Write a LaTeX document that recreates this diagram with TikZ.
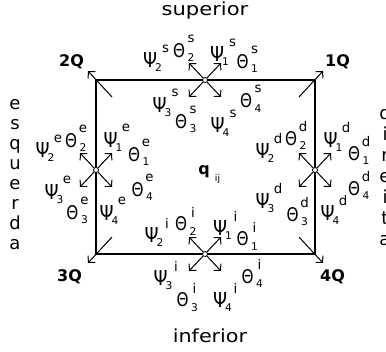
\documentclass[tikz,border=0pt]{standalone}
\usepackage{fontspec}
\setmainfont{DejaVu Sans}
\usetikzlibrary{arrows.meta}
\tikzset{
 box/.style={draw=black, line width=1.1pt},
 arr/.style={draw=black, line width=0.75pt, -{Straight Barb[length=3.6pt,width=7.5pt]}},
 glyph/.style={inner sep=0pt},
 subscr/.style={inner sep=0pt, font=\fontsize{8pt}{8pt}\selectfont},
 supscr/.style={inner sep=0pt, font=\fontsize{10pt}{10pt}\selectfont},
 corner/.style={inner sep=0pt, font=\bfseries\fontsize{12pt}{12pt}\selectfont},
 side/.style={inner sep=0pt, font=\fontsize{13.5pt}{13.5pt}\selectfont},
 vertA/.style={inner sep=0pt, align=center, font=\fontsize{13.5pt}{15pt}\selectfont},
 vertB/.style={inner sep=0pt, align=center, font=\fontsize{13.5pt}{15.75pt}\selectfont},
 hub/.style={circle, draw, fill=white, inner sep=0pt, minimum size=3.8pt, line width=0.6pt},
}
\newcommand\PSI[5]{%
 \node[glyph] (#1) at (#2,#3) {\resizebox{10.5pt}{11.25pt}{Ψ}};
 \node[subscr] (#1b) at (#2+8.5,#3+8) {#4};
 \node[supscr] (#1t) at (#2+15.5,#3-11.5) {#5};}
\newcommand\THE[5]{%
 \node[glyph] (#1) at (#2,#3) {\resizebox{9pt}{10.5pt}{Θ}};
 \node[subscr] (#1b) at (#2+12,#3+7.5) {#4};
 \node[supscr] (#1t) at (#2+12,#3-12) {#5};}
\newcommand\STAR[3]{%
 \coordinate (#1ne) at (#2+16,#3-17);
 \coordinate (#1nw) at (#2-16,#3-17);
 \coordinate (#1se) at (#2+16,#3+17);
 \coordinate (#1sw) at (#2-16,#3+17);
 \draw[arr] (#1) -- (#1ne);
 \draw[arr] (#1) -- (#1nw);
 \draw[arr] (#1) -- (#1se);
 \draw[arr] (#1) -- (#1sw);}
\begin{document}
\begin{tikzpicture}[x=0.75pt,y=-0.75pt]
\useasboundingbox (0,0) rectangle (386,351);
\clip (0,0) rectangle (386,351);
% frame
\coordinate (c2) at (96,80);
\coordinate (c1) at (315,80);
\coordinate (c3) at (96,254);
\coordinate (c4) at (315,254);
\draw[box] (c2) -- (c1) -- (c4) -- (c3) -- cycle;
% corner arrows
\coordinate (a2i) at (112,97);  \coordinate (a2o) at (88,71);
\coordinate (a1i) at (299,97);  \coordinate (a1o) at (323,71);
\coordinate (a3i) at (112,237); \coordinate (a3o) at (88,263);
\coordinate (a4i) at (299,237); \coordinate (a4o) at (323,263);
\draw[arr] (a2i) -- (a2o);
\draw[arr] (a1i) -- (a1o);
\draw[arr] (a3i) -- (a3o);
\draw[arr] (a4i) -- (a4o);
% hubs
\node[hub] (hs) at (205,80) {};
\node[hub] (hi) at (205,254) {};
\node[hub] (he) at (96,170) {};
\node[hub] (hd) at (315,170) {};
\STAR{hs}{205}{80}
\STAR{hi}{205}{254}
\STAR{he}{96}{170}
\STAR{hd}{315}{170}
% corner labels
\node[corner] (q2) at (71.5,61.5) {2Q};
\node[corner] (q1) at (337.5,62) {1Q};
\node[corner] (q3) at (69.5,277) {3Q};
\node[corner] (q4) at (332.5,277) {4Q};
% side labels
\node[side, anchor=base] (sup) at (205,15) {\scalebox{1.17}[1]{superior}};
\node[side, anchor=base] (inf) at (210,342) {\scalebox{1.15}[1]{inferior}};
\node[vertA] (esq) at (15,175) {e\\s\\q\\u\\e\\r\\d\\a};
\node[vertB] (dir) at (385,176) {d\\i\\r\\e\\i\\t\\a};
% centre
\node[inner sep=0pt, font=\bfseries\fontsize{12pt}{12pt}\selectfont] (q) at (204,172) {q};
\node[inner sep=0pt, font=\fontsize{7pt}{7pt}\selectfont] (qij) at (217.5,178.5) {ij};
% top
\PSI{ps2}{150}{60}{2}{s}
\THE{ts2}{179}{50.5}{2}{s}
\PSI{ps1}{217}{54}{1}{s}
\THE{ts1}{242.5}{61.5}{1}{s}
\PSI{ps3}{159.5}{104.5}{3}{s}
\THE{ts4}{246}{101}{4}{s}
\THE{ts3}{181}{121.5}{3}{s}
\PSI{ps4}{217.5}{125}{4}{s}
% bottom
\PSI{pi2}{151.5}{235}{2}{i}
\THE{ti2}{181}{224}{2}{i}
\PSI{pi1}{220}{228}{1}{i}
\THE{ti1}{242.5}{239}{1}{i}
\PSI{pi3}{160.5}{277.5}{3}{i}
\THE{ti4}{247.5}{276.5}{4}{i}
\THE{ti3}{182.5}{300}{3}{i}
\PSI{pi4}{220}{300}{4}{i}
% left
\PSI{pe2}{42.5}{150}{2}{e}
\THE{te2}{71}{140.5}{2}{e}
\PSI{pe1}{110.5}{139.5}{1}{e}
\THE{te1}{134}{154.5}{1}{e}
\PSI{pe3}{51.5}{191.5}{3}{e}
\THE{te4}{137.5}{189.5}{4}{e}
\THE{te3}{72.5}{212.5}{3}{e}
\PSI{pe4}{106.5}{212.5}{4}{e}
% right
\PSI{pd2}{262.5}{150.5}{2}{d}
\THE{td2}{291}{138.5}{2}{d}
\PSI{pd1}{330.5}{139.5}{1}{d}
\THE{td1}{354}{153.5}{1}{d}
\PSI{pd3}{262.5}{200.5}{3}{d}
\THE{td3}{292.5}{214.5}{3}{d}
\THE{td4}{354}{188.5}{4}{d}
\PSI{pd4}{327.5}{212.5}{4}{d}
\end{tikzpicture}
\end{document}
